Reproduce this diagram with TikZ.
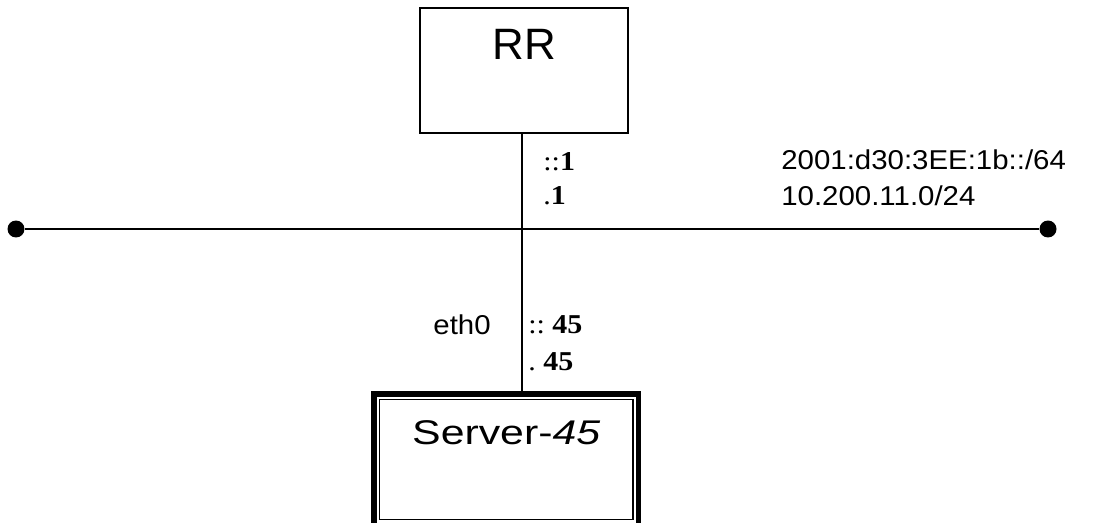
\documentclass[tikz,border=0pt]{standalone}
\usepackage{fontspec}
\setmainfont{Liberation Sans}
\newfontfamily\addrfont{Liberation Serif}
\usepackage{graphicx}
\usetikzlibrary{positioning,calc}
\newcommand{\wtext}[2][1.25]{\scalebox{#1}[1]{#2}}
\tikzset{
  wire/.style={line width=1.1pt},
  rrbox/.style={draw,line width=1.1pt,minimum width=4.16cm,minimum height=2.5cm},
  srvframe/.style={draw,line width=3pt,minimum width=5.29cm,minimum height=2.64cm},
  enddot/.style={circle,fill=black,inner sep=0pt,minimum size=0.34cm},
  netlbl/.style={inner sep=0pt,font=\fontsize{15.5}{18}\selectfont},
  addrlbl/.style={inner sep=0pt,font=\addrfont\fontsize{15.5}{18}\selectfont}
}
\begin{document}
\begin{tikzpicture}[x=0.02cm,y=-0.02cm]
        \useasboundingbox (0,0) rectangle (1094,523);
        % draw router box
        \node[rrbox] (rr) at (524,70.5) {};
        \node[inner sep=0pt,font=\fontsize{25}{29}\selectfont] (rrname) at ($(rr.north)+(0,37)$) {RR};
        % draw lan line
        \node[enddot] (wl) at (16,229) {};
        \node[enddot] (wr) at (1048,229) {};
        \coordinate (jn) at (522,229);
        \draw[wire] (wl) -- (wr);
        % draw server box
        \node[srvframe] (srv) at (506.25,460) {};
        \draw[line width=0.9pt] ($(srv.north west)+(8,8)$) rectangle ($(srv.south east)+(-8,-9)$);
        \node[inner sep=0pt,font=\fontsize{19.5}{23}\selectfont] (srvname) at ($(srv.north)+(0,41)$) {\wtext{Server-\textit{45}}};
        % draw uplink
        \draw[wire] (rr.south -| jn) -- (srv.north -| jn);
        % draw nodes
        \node[addrlbl,anchor=west] (v6rr) at (543,162) {\wtext[1.1]{::\textbf{1}}};
        \node[addrlbl,anchor=west] (v4rr) at (543,196) {\wtext[1.1]{.\textbf{1}}};
        \node[addrlbl,anchor=west] (v6srv) at (528,325) {\wtext[1.1]{::~\textbf{45}}};
        \node[addrlbl,anchor=west] (v4srv) at (528,362) {\wtext[1.1]{.~\textbf{45}}};
        \node[netlbl,anchor=east] (ifname) at (491,325) {\wtext[1.08]{eth0}};
        \node[netlbl,anchor=west] (v6net) at (781,160) {\wtext[1.08]{2001:d30:3EE:1b::/64}};
        \node[netlbl,anchor=west] (v4net) at (781,196) {\wtext[1.08]{10.200.11.0/24}};
\end{tikzpicture}
\end{document}
